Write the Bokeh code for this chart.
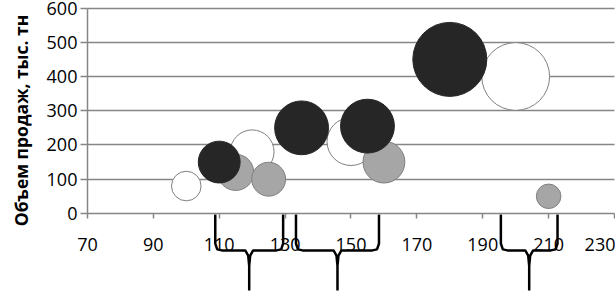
import numpy as np
from bokeh.plotting import figure
from bokeh.models import FixedTicker, Range1d
from bokeh.embed import file_html
from bokeh.resources import INLINE

# Bubble series (x, y = sales volume, size = bubble size)
white_x = [100, 120, 150, 200]
white_y = [80, 180, 210, 400]
white_size = [16, 35, 42, 84]

grey_x = [115, 125, 160, 210]
grey_y = [120, 100, 150, 50]
grey_size = [24, 21, 32, 11]

black_x = [110, 135, 155, 180]
black_y = [150, 250, 255, 450]
black_size = [32, 53, 53, 100]

x_ticks = [70, 90, 110, 130, 150, 170, 190, 210, 230]
y_ticks = [0, 100, 200, 300, 400, 500, 600]
y_label = "Объем продаж, тыс. тн"

# groups marked by braces below the x axis (start, end)
brace_groups = [(108.8, 129.4), (133.3, 158.5), (195.5, 212.7)]

MAX_DIAM = 74.0  # px diameter of the largest bubble


def diam(sizes):
    return [MAX_DIAM * np.sqrt(s / max(black_size)) for s in sizes]


p = figure(width=615, height=292, output_backend="svg", toolbar_location=None,
           x_range=Range1d(43.6, 230.3), y_range=Range1d(-231, 622),
           min_border_left=0, min_border_right=0, min_border_top=0, min_border_bottom=0)
p.outline_line_color = None
p.background_fill_color = "white"
p.border_fill_color = "white"

# axes (placed at x=70 and y=0 inside the frame)
p.xaxis.fixed_location = 0
p.xaxis.bounds = (70, 230)
p.xaxis.ticker = FixedTicker(ticks=x_ticks)
p.xaxis.axis_line_color = "#868686"
p.xaxis.axis_line_width = 1.5
p.xaxis.major_tick_line_color = "#868686"
p.xaxis.major_tick_line_width = 1.5
p.xaxis.major_tick_in = 0
p.xaxis.major_tick_out = 5
p.xaxis.minor_tick_line_color = None
p.xaxis.major_label_text_align = "right"
p.xaxis.major_label_standoff = 20
p.xaxis.major_label_text_font = "Open Sans"
p.xaxis.major_label_text_font_size = "18px"
p.xaxis.major_label_text_color = "black"

p.yaxis.fixed_location = 70
p.yaxis.bounds = (-56, 600)
p.yaxis.ticker = FixedTicker(ticks=y_ticks)
p.yaxis.axis_line_color = None
p.yaxis.major_tick_line_color = "#868686"
p.yaxis.major_tick_line_width = 1.5
p.yaxis.major_tick_in = 0
p.yaxis.major_tick_out = 7
p.yaxis.minor_tick_line_color = None
p.yaxis.major_label_standoff = 3
p.yaxis.major_label_text_font = "Open Sans"
p.yaxis.major_label_text_font_size = "18px"
p.yaxis.major_label_text_color = "black"
p.yaxis.axis_label = y_label
p.yaxis.axis_label_text_font = "Open Sans"
p.yaxis.axis_label_text_font_style = "bold"
p.yaxis.axis_label_text_font_size = "17.5px"
p.yaxis.axis_label_text_color = "black"
p.yaxis.axis_label_standoff = 11

# vertical axis line at x=70 drawn as a bounded grid line
p.xgrid.ticker = FixedTicker(ticks=[70])
p.xgrid.cross_bounds = (0, 600)
p.xgrid.grid_line_color = "#868686"
p.xgrid.grid_line_width = 1.5

p.ygrid.ticker = FixedTicker(ticks=y_ticks[1:])
p.ygrid.cross_bounds = (70, 230)
p.ygrid.grid_line_color = "#868686"
p.ygrid.grid_line_width = 1.5

# bubbles: white, then grey, then black on top
p.scatter(white_x, white_y, size=diam(white_size), fill_color="white",
          line_color="#7f7f7f", line_width=1)
p.scatter(grey_x, grey_y, size=diam(grey_size), fill_color="#a6a6a6",
          line_color="#7f7f7f", line_width=1)
p.scatter(black_x, black_y, size=diam(black_size), fill_color="#262626",
          line_color="#262626", line_width=1)

# curly braces below the axis
for (a, b) in brace_groups:
    m = (a + b) / 2.0
    top, mid, bot = -3, -108, -225
    r = 2.0
    xs = [a, a, a + r * 0.3, a + r, m - r * 0.6, m - r * 0.15, m, m, m,
          m + r * 0.15, m + r * 0.6, b - r, b - r * 0.3, b, b]
    ys = [top, mid + 20, mid + 3, mid, mid, mid - 15, mid - 45, bot,
          mid - 45, mid - 15, mid, mid, mid + 3, mid + 20, top]
    p.line(xs, ys, line_color="black", line_width=2.5)

open("out.html", "w").write(file_html(p, INLINE))
